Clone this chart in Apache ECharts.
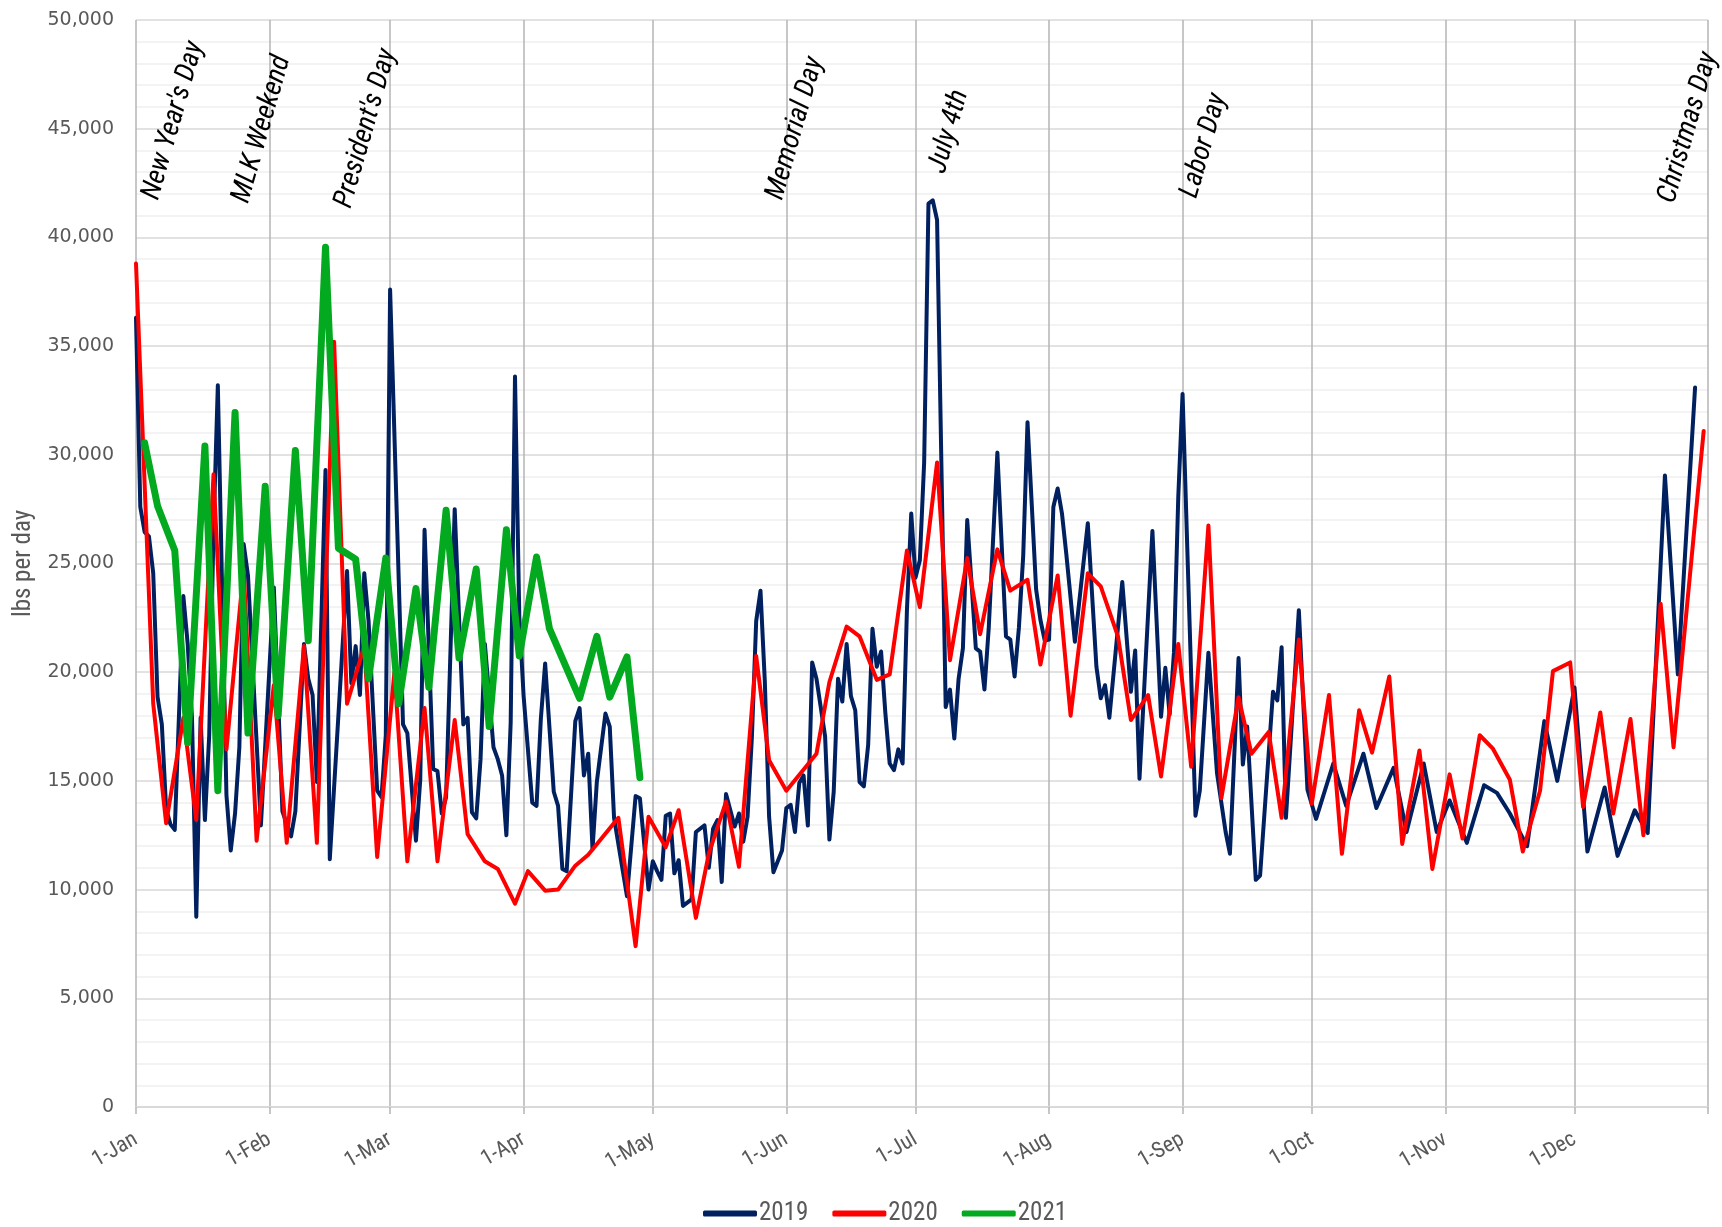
<!DOCTYPE html>
<html>
<head>
<meta charset="utf-8">
<script src="https://cdn.jsdelivr.net/npm/echarts@6/dist/echarts.min.js"></script>
<style>
  html, body { margin: 0; padding: 0; background: #fff; }
  #chart { width: 1722px; height: 1227px; }
</style>
</head>
<body>
<div id="chart"></div>
<script>
// Daily pounds collected, by day of year (0 = 1 Jan)
const lbs2019 = [
  [0,36300],[1,27600],[2,26450],[3,26250],[4,24550],[5,18870],[6,17600],[7,13700],[8,13000],[9,12750],
  [11,23500],[12,21300],[13,17900],[14,8750],[15,17900],[16,13200],[17,17100],[18,26550],[19,33200],
  [21,14350],[22,11800],[23,13500],[24,16550],[25,25900],[26,24450],[29,12950],[32,23900],[34,13600],
  [36,12450],[37,13600],[39,21300],[40,19700],[41,18950],[42,14950],[44,29300],[45,11400],[49,24650],
  [50,19500],[51,21200],[52,18950],[53,24550],[54,22350],[56,14550],[57,14250],[58,17100],[59,37600],
  [62,17600],[63,17200],[65,12250],[66,15050],[67,26550],[69,15550],[70,15450],[71,13500],[72,14250],
  [74,27500],[76,17600],[77,17900],[78,13550],[79,13280],[80,16000],[81,21300],[83,16550],[84,16000],
  [85,15250],[86,12500],[87,17700],[88,33600],[89,22550],[90,18900],[92,14000],[93,13850],[94,17850],
  [95,20400],[97,14500],[98,13850],[99,10950],[100,10850],[102,17750],[103,18350],[104,15250],[105,16250],
  [106,11850],[107,14950],[109,18100],[110,17500],[111,13300],[114,9700],[116,14300],[117,14200],[119,10000],
  [120,11300],[121,10850],[122,10450],[123,13400],[124,13500],[125,10750],[126,11350],[127,9250],[129,9550],
  [130,12650],[132,12950],[133,11000],[134,12800],[135,13200],[136,10350],[137,14400],[138,13650],[139,12900],
  [140,13500],[141,12200],[142,13350],[143,17000],[144,22350],[145,23750],[146,19600],[147,13350],[148,10800],
  [150,11800],[151,13750],[152,13900],[153,12650],[154,14900],[155,15250],[156,12950],[157,20450],[158,19700],
  [160,17050],[161,12300],[162,14500],[163,19700],[164,18650],[165,21300],[166,18900],[167,18250],[168,14950],
  [169,14750],[170,16650],[171,22000],[172,20250],[173,20950],[174,18100],[175,15800],[176,15500],[177,16450],
  [178,15800],[179,22850],[180,27300],[181,24350],[182,25150],[183,29650],[184,41550],[185,41700],[186,40800],
  [188,18400],[189,19200],[190,16950],[191,19700],[192,21100],[193,27000],[194,24100],[195,21100],[196,20950],
  [197,19200],[198,22050],[200,30100],[202,21650],[203,21500],[204,19800],[205,22050],[206,25350],[207,31500],
  [209,23800],[210,22400],[211,21450],[212,21500],[213,27600],[214,28450],[215,27300],[216,25450],[218,21400],
  [221,26850],[223,20250],[224,18800],[225,19400],[226,17900],[229,24150],[231,19100],[232,21000],[233,15100],
  [236,26500],[238,17950],[239,20200],[240,18050],[241,20900],[242,28050],[243,32800],[246,13400],[247,14550],
  [249,20900],[251,15350],[253,12650],[254,11650],[256,20650],[257,15750],[258,17500],[260,10450],[261,10650],
  [264,19100],[265,18700],[266,21150],[267,13300],[270,22850],[272,14600],[274,13250],[278,15800],[281,13850],
  [285,16250],[288,13750],[292,15600],[295,12650],[299,15800],[302,12650],[305,14100],[309,12150],[313,14800],
  [316,14450],[319,13500],[323,12000],[327,17750],[330,15000],[334,19300],[337,11750],[341,14700],[344,11550],
  [348,13650],[351,12600],[355,29050],[358,19900],[362,33100]
];

const lbs2020 = [
  [0,38800],[4,18550],[7,13050],[11,17900],[14,13200],[18,29100],[21,16450],[25,24750],[28,12250],[32,19400],
  [35,12150],[39,21200],[42,12150],[46,35200],[49,18550],[53,21200],[56,11500],[60,20000],[63,11300],[67,18350],
  [70,11300],[74,17800],[77,12550],[81,11300],[84,10950],[88,9350],[91,10850],[95,9950],[98,10000],[102,11100],
  [105,11600],[112,13300],[116,7400],[119,13350],[123,11950],[126,13650],[130,8700],[133,11650],[137,14050],
  [140,11050],[144,20750],[147,15950],[151,14550],[158,16250],[161,19550],[165,22100],[168,21650],[172,19650],
  [175,19900],[179,25600],[182,23000],[186,29650],[189,20550],[193,25250],[196,21750],[200,25650],[203,23750],
  [207,24250],[210,20350],[214,24450],[217,18000],[221,24550],[224,23950],[228,21650],[231,17800],[235,18950],
  [238,15200],[242,21300],[245,15650],[249,26750],[252,14200],[256,18850],[259,16250],[263,17250],[266,13300],
  [270,21500],[273,13950],[277,18950],[280,11650],[284,18250],[287,16300],[291,19800],[294,12100],[298,16400],
  [301,10950],[305,15300],[308,12350],[312,17100],[315,16500],[319,15050],[322,11750],[326,14550],[329,20050],
  [333,20450],[336,13800],[340,18150],[343,13500],[347,17850],[350,12500],[354,23150],[357,16550],[364,31100]
];

const lbs2021 = [
  [2,30550],[5,27650],[9,25600],[12,16750],[16,30400],[19,14550],[23,31950],[26,17200],[30,28550],[33,18000],
  [37,30200],[40,21450],[44,39550],[47,25700],[51,25200],[54,19700],[58,25250],[61,18550],[65,23850],[68,19300],
  [72,27450],[75,20650],[79,24750],[82,17500],[86,26550],[89,20750],[93,25300],[96,22000],[103,18800],[107,21650],
  [110,18850],[114,20700],[117,15150]
];

// Calendar used for the day axis (non-leap year)
const monthNames = ['Jan','Feb','Mar','Apr','May','Jun','Jul','Aug','Sep','Oct','Nov','Dec'];
const monthLengths = [31,28,31,30,31,30,31,31,30,31,30,31];

// Holiday annotations
const holidayNames = ["New Year's Day", 'MLK Weekend', "President's Day", 'Memorial Day', 'July 4th', 'Labor Day', 'Christmas Day'];

// Build day categories and month-start positions
const dayCategories = [];
const monthStarts = [];
monthLengths.forEach((len, m) => {
  monthStarts.push(dayCategories.length);
  for (let d = 1; d <= len; d++) dayCategories.push(d + '-' + monthNames[m]);
});
dayCategories.push('1-Jan'); // closing edge of the year
const lastIdx = dayCategories.length - 1;
const monthStartSet = new Set(monthStarts);

// Where each holiday caption sits: [day position, level in lbs]
const captionAnchors = [[6.6,41580],[27.5,41440],[51.3,41210],[151.5,41580],[189.2,42820],[247.7,41670],[358.6,41440]];

const narrow = "'Liberation Sans Narrow', 'Arial Narrow', 'Roboto Condensed', 'Noto Sans', sans-serif";

const chart = echarts.init(document.getElementById('chart'), null, { renderer: 'canvas' });

const lineSeries = (name, data, color, width) => ({
  name, type: 'line', data, symbol: 'none', smooth: false,
  lineStyle: { color, width, join: 'round', cap: 'round' },
  itemStyle: { color },
  emphasis: { disabled: true }
});

chart.setOption({
  animation: false,
  backgroundColor: '#ffffff',
  grid: { left: 136, right: 14, top: 20, bottom: 120, containLabel: false },
  xAxis: {
    type: 'category',
    data: dayCategories,
    boundaryGap: false,
    axisLine: { show: true, lineStyle: { color: '#d9d9d9', width: 2 } },
    axisTick: {
      show: true, length: 7,
      interval: (i) => monthStartSet.has(i) || i === lastIdx,
      lineStyle: { color: '#b4b4b4', width: 1.5 }
    },
    axisLabel: {
      interval: (i) => monthStartSet.has(i),
      rotate: 30, margin: 31,
      color: '#595959', fontSize: 22, fontFamily: narrow
    },
    splitLine: {
      show: true,
      interval: (i) => monthStartSet.has(i) || i === lastIdx,
      lineStyle: { color: '#b4b4b4', width: 1.5 }
    }
  },
  yAxis: {
    type: 'value', min: 0, max: 50000, interval: 5000,
    name: 'lbs per day', nameLocation: 'middle', nameGap: 98, nameRotate: 90,
    nameTextStyle: { color: '#595959', fontSize: 25, fontFamily: narrow },
    axisLine: { show: false }, axisTick: { show: false },
    axisLabel: {
      margin: 22, color: '#595959', fontSize: 19, fontFamily: "'DejaVu Sans', sans-serif",
      formatter: (v) => v.toLocaleString('en-US')
    },
    splitLine: { show: true, lineStyle: { color: '#d9d9d9', width: 1.5 } },
    minorTick: { show: false, splitNumber: 5 },
    minorSplitLine: { show: true, lineStyle: { color: '#f0f0f0', width: 1.5 } }
  },
  legend: {
    top: 1196, left: 698,
    data: [
      { name: '2019', icon: 'roundRect', itemStyle: { color: '#002060' } },
      { name: '2020', icon: 'roundRect', itemStyle: { color: '#ff0000' } },
      { name: '2021', icon: 'roundRect', itemStyle: { color: '#03aa1f' } }
    ],
    itemWidth: 54, itemHeight: 6, itemGap: 24,
    textStyle: { color: '#595959', fontSize: 25, fontFamily: narrow, padding: [0, 0, 0, -3] }
  },
  series: [
    lineSeries('2019', lbs2019, '#002060', 4),
    lineSeries('2020', lbs2020, '#ff0000', 4),
    lineSeries('2021', lbs2021, '#03aa1f', 7)
  ]
});

// Rotated holiday captions placed in chart coordinates
function toPixel(day, level) {
  const a = chart.convertToPixel({ gridIndex: 0 }, [0, level]);
  const b = chart.convertToPixel({ gridIndex: 0 }, [lastIdx, level]);
  return [a[0] + (b[0] - a[0]) * day / lastIdx, a[1]];
}
const captions = holidayNames.map((name, i) => {
  const p = toPixel(captionAnchors[i][0], captionAnchors[i][1]);
  return {
    type: 'text', x: p[0], y: p[1], rotation: 74 * Math.PI / 180, z: 100,
    style: {
      text: name, fill: '#000000', align: 'left', verticalAlign: 'bottom',
      font: 'italic 28px ' + narrow
    }
  };
});
chart.setOption({ graphic: captions });
</script>
</body>
</html>
